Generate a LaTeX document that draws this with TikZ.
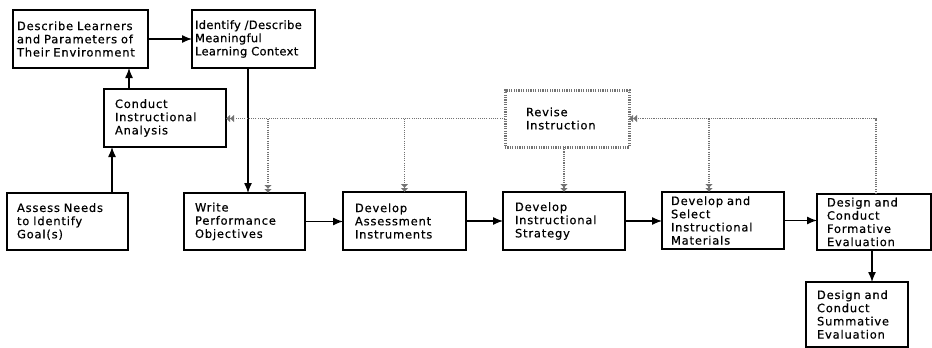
\documentclass[tikz,border=0pt]{standalone}
\usepackage{fontspec}
\setmainfont{DejaVu Sans}[LetterSpace=7,FakeBold=0.5]
\usetikzlibrary{arrows.meta}
\definecolor{fbgray}{gray}{0.45}
\begin{document}
\begin{tikzpicture}[x=1pt,y=-1pt,
  stepbox/.style={draw, line width=1.3pt, rectangle, anchor=north west,
    align=left, inner ysep=0pt, outer sep=0pt,
    font=\fontsize{11.5}{13.2}\selectfont},
  revisebox/.style={stepbox, draw=fbgray, line width=3pt,
    dash pattern=on 1.2pt off 1.2pt},
  arr/.style={line width=1.3pt, -{Latex[length=10pt,width=8pt]}},
  fb/.style={draw=fbgray, line width=1.6pt, dash pattern=on 1.1pt off 1.1pt},
  fbarr/.style={fb, -{Latex[length=4pt,width=8pt]Latex[length=4pt,width=8pt]}}
]
\useasboundingbox (0,0) rectangle (932,348);

% process steps
\node[stepbox, minimum width=135pt, minimum height=58pt, text width=127pt, inner xsep=4pt]
  (desc) at (13,10) {Describe Learners\\and Parameters of\\Their Environment};
\node[stepbox, minimum width=123pt, minimum height=58pt, text width=117pt, inner xsep=3pt]
  (ident) at (192,10) {\addfontfeatures{LetterSpace=3}Identify /Describe\\Meaningful\\Learning Context};
\node[stepbox, minimum width=122pt, minimum height=58pt, text width=100pt, inner xsep=11pt]
  (conduct) at (104,89) {Conduct\\Instructional\\Analysis};
\node[stepbox, minimum width=121pt, minimum height=57pt, text width=101pt, inner xsep=10pt]
  (assess) at (7,193) {Assess Needs\\to Identify\\Goal(s)};
\node[stepbox, minimum width=121pt, minimum height=57pt, text width=99pt, inner xsep=11pt]
  (write) at (184,193) {Write\\Performance\\Objectives};
\node[stepbox, minimum width=123pt, minimum height=58pt, text width=99pt, inner xsep=12pt]
  (instr) at (343,192) {Develop\\Assessment\\Instruments};
\node[stepbox, minimum width=122pt, minimum height=58pt, text width=98pt, inner xsep=12pt]
  (strat) at (503,192) {Develop\\Instructional\\Strategy};
\node[revisebox, minimum width=124pt, minimum height=57pt, text width=82pt, inner xsep=21pt]
  (revise) at (505,90) {Revise\\Instruction};
\node[stepbox, minimum width=122pt, minimum height=57pt, text width=104pt, inner xsep=9pt]
  (mat) at (662,192) {Develop and\\Select\\Instructional\\Materials};
\node[stepbox, minimum width=114pt, minimum height=56pt, text width=94pt, inner xsep=10pt]
  (form) at (817,194) {Design and\\Conduct\\Formative\\Evaluation};
\node[stepbox, minimum width=102pt, minimum height=65pt, text width=80pt, inner xsep=11pt]
  (summ) at (806,282) {Design and\\Conduct\\Summative\\Evaluation};

% main flow
\draw[arr] (desc.east) -- (desc.east -| ident.west);
\draw[arr] ([xshift=25pt]conduct.north west) -- ([xshift=25pt]conduct.north west |- desc.south);
\draw[arr] ([xshift=105pt]assess.north west) -- ([xshift=105pt]assess.north west |- conduct.south);
\draw[arr] ([xshift=56pt]ident.south west) -- ([xshift=56pt]ident.south west |- write.north);
\draw[arr] (write.east) -- (write.east -| instr.west);
\draw[arr] (instr.east) -- (instr.east -| strat.west);
\draw[arr] (strat.east) -- (strat.east -| mat.west);
\draw[arr] (mat.east) -- (mat.east -| form.west);
\draw[arr] ([xshift=55pt]form.south west) -- ([xshift=55pt]form.south west |- summ.north);

% revision feedback
\draw[fbarr] (revise.west) -- (revise.west -| conduct.east);
\draw[fbarr] ([xshift=84pt]write.north west |- revise.west) -- ([xshift=84pt]write.north west);
\draw[fbarr] (instr.north |- revise.west) -- (instr.north);
\draw[fbarr] (strat.north |- revise.south) -- (strat.north);
\draw[fbarr] ([xshift=59pt]form.north west) |- (revise.east);
\draw[fbarr] ([xshift=47pt]mat.north west |- revise.east) -- ([xshift=47pt]mat.north west);
\end{tikzpicture}
\end{document}
